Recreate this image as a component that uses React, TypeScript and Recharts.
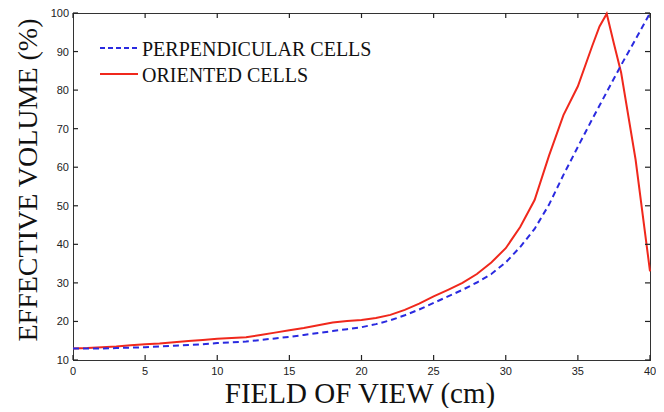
import { LineChart, Line, XAxis, YAxis, Label } from "recharts";

// field of view (cm)
const fov = [0, 1, 2, 3, 4, 5, 6, 7, 8, 9, 10, 11, 12, 13, 14, 15, 16, 17, 18, 19, 20,
  21, 22, 23, 24, 25, 26, 27, 28, 29, 30, 31, 32, 33, 34, 35, 36, 36.5, 37, 37.5, 38, 39, 40];

// effective volume (%)
const oriented = [13.0, 13.1, 13.3, 13.5, 13.8, 14.1, 14.3, 14.6, 14.9, 15.2, 15.5,
  15.7, 15.9, 16.5, 17.1, 17.7, 18.3, 19.0, 19.7, 20.1, 20.4,
  20.9, 21.7, 23.0, 24.6, 26.5, 28.2, 30.0, 32.3, 35.3, 39.0,
  44.5, 51.5, 63.0, 73.5, 81.0, 91.5, 96.5, 99.8, 92.0, 84.5, 62.0, 33.0];

const perpendicular = [13.0, 13.0, 13.0, 13.1, 13.2, 13.3, 13.5, 13.7, 13.9, 14.1, 14.4,
  14.6, 14.8, 15.2, 15.6, 16.0, 16.5, 17.0, 17.5, 18.0, 18.5,
  19.3, 20.3, 21.6, 23.1, 24.8, 26.5, 28.2, 30.1, 32.3, 35.3,
  39.3, 44.0, 50.3, 58.0, 65.3, 72.5, 76.0, 79.5, 83.0, 86.5, 93.2, 100];

const xTicks = [0, 5, 10, 15, 20, 25, 30, 35, 40];
const yTicks = [10, 20, 30, 40, 50, 60, 70, 80, 90, 100];

const legendItems = [
  { label: "PERPENDICULAR CELLS", color: "#2a2ae0", dash: "5 3" },
  { label: "ORIENTED CELLS", color: "#f0281c", dash: undefined },
];

const data = fov.map((x, i) => ({
  fov: x,
  oriented: oriented[i],
  perpendicular: perpendicular[i],
}));

const axisColor = "#222";
const sans = "Liberation Sans, Arial, sans-serif";
const serif = "Liberation Serif, Times New Roman, serif";

// plot box (chart px), matches the axis sizes below
const box = { left: 65, top: 5, width: 577, height: 347 };

// matlab style ticks: short marks pointing into the plot box
function BottomTick({ x, y, payload }: any) {
  return (
    <g>
      <path d={`M${x},${y}V${y - 5}`} stroke={axisColor} strokeWidth={1.2} fill="none" />
      <text x={x} y={y + 15} textAnchor="middle" fontFamily={sans} fontSize={11} fill="#222">
        {payload.value}
      </text>
    </g>
  );
}

function LeftTick({ x, y, payload }: any) {
  return (
    <g>
      <path d={`M${x},${y}H${x + 5}`} stroke={axisColor} strokeWidth={1.2} fill="none" />
      <text x={x - 4} y={y + 4} textAnchor="end" fontFamily={sans} fontSize={11} fill="#222">
        {payload.value}
      </text>
    </g>
  );
}

function TopTick({ x, y }: any) {
  return <path d={`M${x},${y}V${y + 5}`} stroke={axisColor} strokeWidth={1.2} fill="none" />;
}

function RightTick({ x, y }: any) {
  return <path d={`M${x},${y}H${x - 5}`} stroke={axisColor} strokeWidth={1.2} fill="none" />;
}

function LegendBox() {
  return (
    <svg width={300} height={60} style={{ position: "absolute", left: 92, top: 32 }}>
      {legendItems.map((it, i) => (
        <g key={it.label}>
          <line x1={0} x2={38} y1={8 + i * 26} y2={8 + i * 26} stroke={it.color}
            strokeWidth={2} strokeDasharray={it.dash} />
          <text x={42} y={16 + i * 26} fontFamily={serif} fontSize={20} fill="#111">
            {it.label}
          </text>
        </g>
      ))}
    </svg>
  );
}

export default function App() {
  return (
    <div style={{ position: "relative", width: 650, height: 400, background: "#fff" }}>
      <div style={{
        position: "absolute", left: box.left, top: box.top, width: box.width - 1,
        height: box.height - 1, border: "1px solid #333", pointerEvents: "none",
      }} />
      <LineChart width={650} height={400} data={data}
        margin={{ top: 0, right: 0, left: 0, bottom: 0 }}>
        <XAxis xAxisId="bottom" dataKey="fov" type="number" domain={[0, 40]} ticks={xTicks}
          height={48} tickSize={0} tickMargin={0} tick={<BottomTick />}
          axisLine={false} tickLine={false} interval={0}>
          <Label content={() => (
            <text x={352} y={395} textAnchor="middle" fontFamily={serif}
              fontSize={29} fill="#111">FIELD OF VIEW (cm)</text>
          )} />
        </XAxis>
        <XAxis xAxisId="top" orientation="top" dataKey="fov" type="number"
          domain={[0, 40]} ticks={xTicks} height={5} tickSize={0} tickMargin={0}
          tick={<TopTick />} axisLine={false} tickLine={false} interval={0} />
        <YAxis yAxisId="left" type="number" domain={[10, 100]} ticks={yTicks} width={65}
          tickSize={0} tickMargin={0} tick={<LeftTick />} axisLine={false}
          tickLine={false} interval={0}>
          <Label content={() => (
            <text x={29} y={172} textAnchor="middle" fontFamily={serif}
              fontSize={28} fill="#111" transform="rotate(-90 29 172)">
              EFFECTIVE VOLUME (%)
            </text>
          )} />
        </YAxis>
        <YAxis yAxisId="right" orientation="right" type="number" domain={[10, 100]}
          ticks={yTicks} width={8} tickSize={0} tickMargin={0} tick={<RightTick />}
          axisLine={false} tickLine={false} interval={0} />
        {/* invisible series so the top and right box axes get drawn */}
        <Line xAxisId="top" yAxisId="right" dataKey="perpendicular" stroke="transparent"
          dot={false} activeDot={false} isAnimationActive={false} />
        <Line xAxisId="bottom" yAxisId="left" type="linear" dataKey="oriented"
          stroke="#f0281c" strokeWidth={2} dot={false} isAnimationActive={false} />
        <Line xAxisId="bottom" yAxisId="left" type="linear" dataKey="perpendicular"
          stroke="#2a2ae0" strokeWidth={2} strokeDasharray="6 4" dot={false}
          isAnimationActive={false} />
      </LineChart>
      <LegendBox />
    </div>
  );
}
